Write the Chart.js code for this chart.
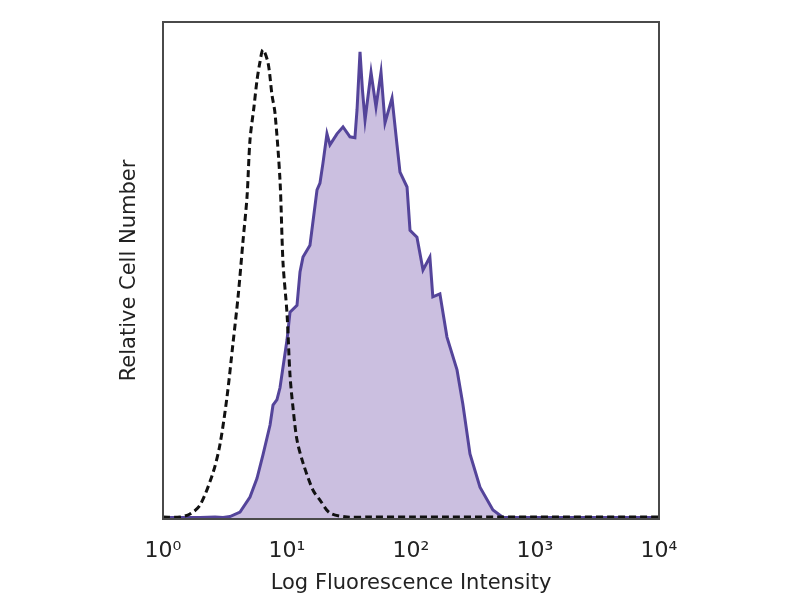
<!DOCTYPE html>
<html lang="en">
<head>
  <meta charset="UTF-8">
  <title>Log Fluorescence Histogram</title>
  <script src="https://cdn.jsdelivr.net/npm/chart.js"></script>
  <style>
    html, body { margin: 0; padding: 0; background: #fff; }
    #wrap { width: 800px; height: 600px; }
  </style>
</head>
<body>
  <div id="wrap"><canvas id="histChart" width="800" height="600"></canvas></div>

  <script>
    // Tick labels for the decades 10^0 .. 10^4
    const tickLabels = ['10\u2070', '10\u00B9', '10\u00B2', '10\u00B3', '10\u2074'];

    // Isotype control (dashed) - fluorescence value / relative count
    const controlX = [1, 1.37, 1.65, 1.99, 2.53, 2.88, 3.28, 3.67, 4.03, 4.42, 4.76, 5.03, 5.42, 5.73, 6.06, 6.40,
                      7.03, 7.57, 8.0, 8.78, 9.29, 10, 10.57, 11.17, 12.04, 13.46, 16.2, 18.45, 22.2, 30.5, 46.7,
                      100, 1000, 10000];
    const controlY = [0.4, 0.4, 1, 2.8, 9.3, 15, 24.5, 35.4, 44.7, 56, 64.8, 76.3, 83, 88.3, 92, 94.4,
                      91.8, 85.3, 81.7, 68.2, 51.5, 41.4, 29, 22.5, 15.9, 11.3, 5.8, 3.8, 1.2, 0.4, 0.4,
                      0.4, 0.4, 0.4];

    // Stained sample (filled purple)
    const sampleX = [1, 1.99, 2.63, 3.05, 3.47, 4.18, 5.03, 5.73, 6.4, 7.3, 7.71, 8.3, 8.78, 10, 10.57, 12.04,
                     12.73, 13.46, 15.32, 17.46, 18.45, 19.5, 21.0, 22.2, 25.3, 28.3, 32.2, 35.3, 36.7, 38.8,
                     40.6, 42.6, 47.6, 52.2, 57.3, 61.7, 70.3, 77.1, 81.5, 92.9, 98.2, 111.7, 125, 142, 150,
                     171, 195, 235, 262, 299, 360, 458, 552, 757, 1000, 10000];
    const sampleY = [0.3, 0.3, 0.4, 0.3, 0.5, 1.4, 4.4, 8.2, 12.9, 18.9, 22.9, 24, 26.4, 36, 41.6, 43,
                     49.7, 52.7, 55.1, 66.2, 67.6, 71.6, 77.5, 75.3, 77.5, 78.9, 76.9, 76.7, 82.3, 94,
                     86.3, 80.3, 89.9, 82.9, 89.9, 79.7, 84.7, 75.3, 69.8, 66.8, 58.1, 56.7, 50.1, 52.7, 44.7,
                     45.3, 36.6, 30, 23.1, 13.1, 6.4, 1.8, 0.3, 0.3, 0.3, 0.3];

    const toPoints = (xs, ys) => xs.map((x, i) => ({ x: x, y: ys[i] }));

    // frame around the plot area
    const frame = {
      id: 'frame',
      afterDraw(chart) {
        const a = chart.chartArea;
        const c = chart.ctx;
        c.save();
        c.strokeStyle = '#4a4a4a';
        c.lineWidth = 2;
        c.strokeRect(a.left, a.top, a.right - a.left, a.bottom - a.top);
        c.restore();
      }
    };

    const ctx = document.getElementById('histChart').getContext('2d');
    new Chart(ctx, {
      type: 'line',
      data: {
        datasets: [
          {
            label: 'Control',
            data: toPoints(controlX, controlY),
            borderColor: '#111',
            borderWidth: 3,
            borderDash: [7, 4],
            fill: false,
            pointRadius: 0,
            tension: 0.3,
            order: 0
          },
          {
            label: 'Stained',
            data: toPoints(sampleX, sampleY),
            borderColor: '#54449a',
            borderWidth: 3,
            backgroundColor: '#cbbfe0',
            fill: 'origin',
            pointRadius: 0,
            tension: 0,
            order: 1
          }
        ]
      },
      options: {
        responsive: false,
        animation: false,
        layout: { padding: { left: 117, right: 141, top: 22, bottom: 0 } },
        plugins: {
          legend: { display: false },
          tooltip: { enabled: false }
        },
        scales: {
          x: {
            type: 'logarithmic',
            min: 1,
            max: 10000,
            grid: { display: false, drawTicks: false },
            border: { display: false },
            ticks: {
              autoSkip: false,
              maxRotation: 0,
              padding: 19,
              color: '#222',
              font: { family: 'DejaVu Sans', size: 22 },
              callback: (v) => {
                const p = Math.log10(v);
                return Number.isInteger(p) ? tickLabels[p] : '';
              }
            },
            title: {
              display: true,
              text: 'Log Fluorescence Intensity',
              color: '#222',
              font: { family: 'DejaVu Sans', size: 21 },
              padding: { top: 0, bottom: 4 }
            },
            afterFit: (scale) => { scale.height = 81; }
          },
          y: {
            min: 0,
            max: 100,
            grid: { display: false, drawTicks: false },
            border: { display: false },
            ticks: { display: false },
            title: {
              display: true,
              text: 'Relative Cell Number',
              color: '#222',
              font: { family: 'DejaVu Sans', size: 21 },
              padding: { top: 0, bottom: 0 }
            },
            afterFit: (scale) => { scale.width = 46; }
          }
        }
      },
      plugins: [frame]
    });
  </script>
</body>
</html>
